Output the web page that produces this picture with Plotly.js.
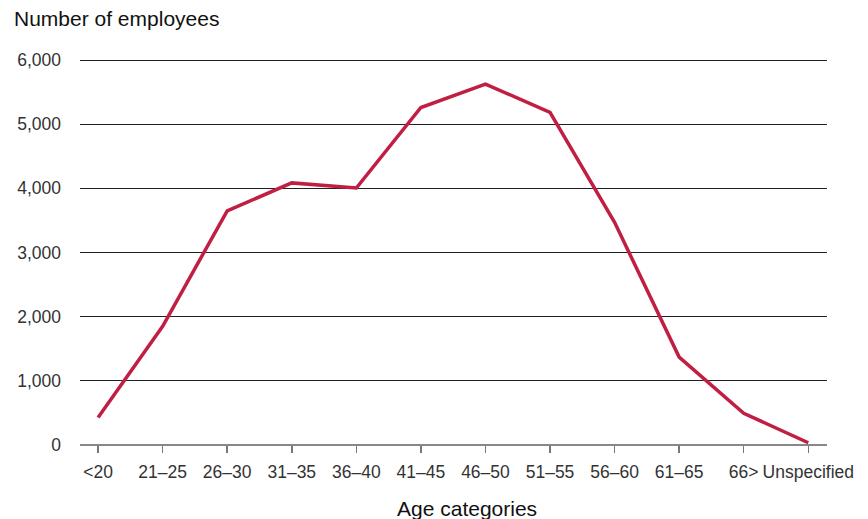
<!DOCTYPE html>
<html>
<head>
<meta charset="utf-8">
<script src="https://cdn.plot.ly/plotly-3.0.1.min.js"></script>
<style>html,body{margin:0;padding:0;background:#fff;}#chart{width:868px;height:519px;}</style>
</head>
<body>
<div id="chart"></div>
<script>
const categories = ["<20","21–25","26–30","31–35","36–40","41–45","46–50","51–55","56–60","61–65","66>","Unspecified"];
const employees = [430, 1850, 3650, 4085, 4005, 5260, 5625, 5185, 3470, 1370, 495, 35];
const yTicks = [0, 1000, 2000, 3000, 4000, 5000, 6000];
const yTickLabels = ["0", "1,000", "2,000", "3,000", "4,000", "5,000", "6,000"];

const FONT = "Liberation Sans, Arial, Helvetica, sans-serif";

const trace = {
  x: categories.map((c, i) => i),
  y: employees,
  type: "scatter",
  mode: "lines",
  line: {color: "#c01f43", width: 3.5},
  hoverinfo: "skip",
  cliponaxis: false
};

const layout = {
  width: 868, height: 519,
  margin: {l: 80, r: 41, t: 59, b: 74},
  paper_bgcolor: "#fff", plot_bgcolor: "#fff",
  showlegend: false,
  font: {family: FONT, color: "#333", size: 18},
  xaxis: {
    range: [-0.28, 11.29],
    tickmode: "array",
    tickvals: categories.map((c, i) => i),
    ticktext: categories,
    ticks: "outside", ticklen: 7, tickwidth: 1.5, tickcolor: "#777",
    ticklabelstandoff: 4,
    showgrid: false, zeroline: false, showline: false,
    tickfont: {family: FONT, size: 17.5, color: "#333"},
    fixedrange: true
  },
  yaxis: {
    range: [0, 6016],
    tickmode: "array",
    tickvals: yTicks,
    ticktext: yTickLabels,
    ticks: "", showline: false,
    showgrid: true, gridcolor: "#222", gridwidth: 1,
    zeroline: true, zerolinecolor: "#888", zerolinewidth: 2,
    ticklabelstandoff: 18,
    tickfont: {family: FONT, size: 17.5, color: "#333"},
    fixedrange: true
  },
  annotations: [
    {text: "Number of employees", xref: "paper", yref: "paper", x: 0, y: 1 + 41/386,
     xanchor: "left", yanchor: "middle", showarrow: false, xshift: -68,
     font: {family: FONT, size: 21, color: "#111"}},
    {text: "Age categories", xref: "paper", yref: "paper", x: (467-80)/747, y: -64/386,
     xanchor: "center", yanchor: "middle", showarrow: false,
     font: {family: FONT, size: 21, color: "#111"}}
  ]
};

Plotly.newPlot("chart", [trace], layout, {displayModeBar: false, staticPlot: true});
</script>
</body>
</html>
